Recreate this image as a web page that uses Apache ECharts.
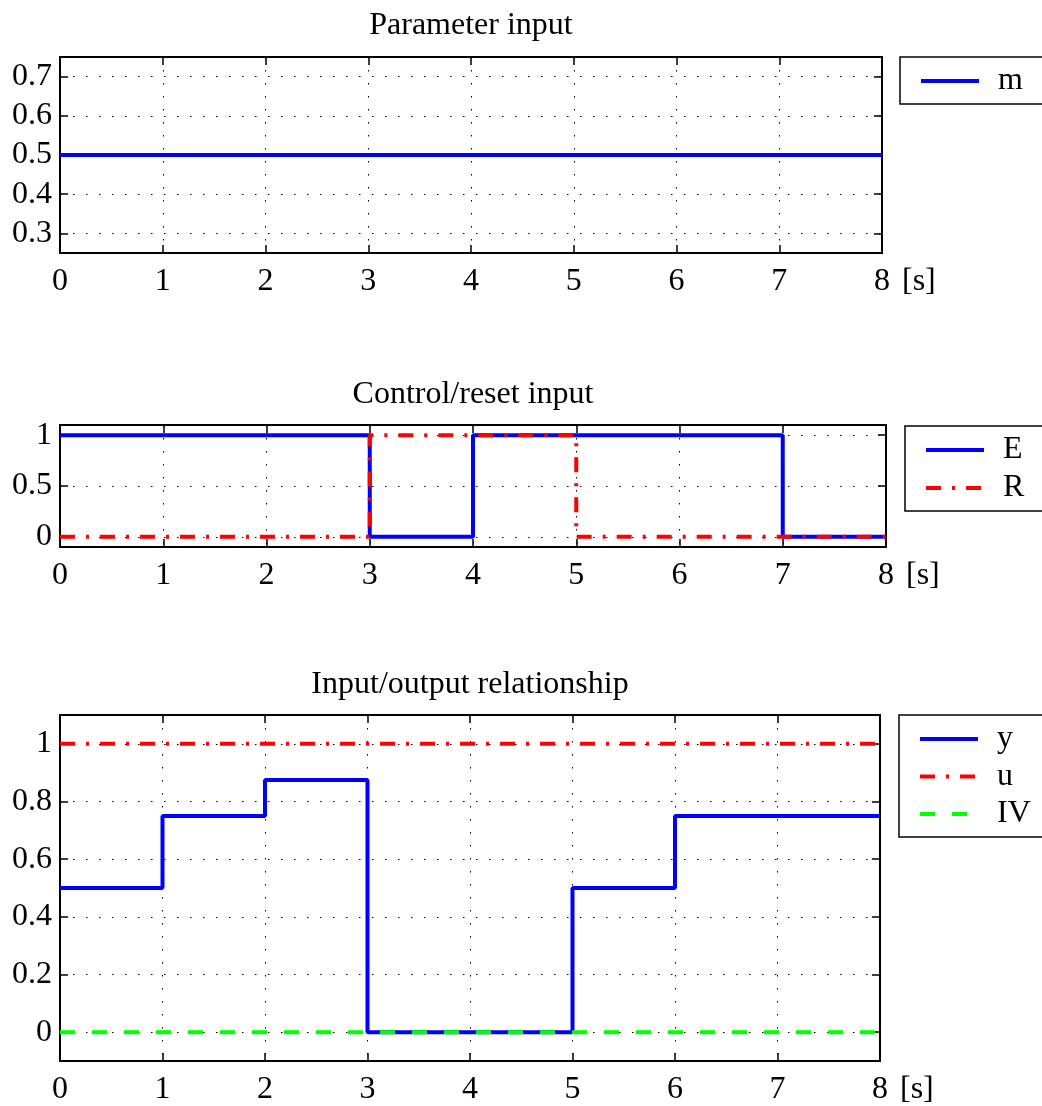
<!DOCTYPE html>
<html>
<head>
<meta charset="utf-8">
<script src="https://cdn.jsdelivr.net/npm/echarts@6/dist/echarts.min.js"></script>
<style>
html,body{margin:0;padding:0;background:#fff;}
#chart{width:1042px;height:1106px;}
</style>
</head>
<body>
<div id="chart"></div>
<script>
// ---- data ----
const t = [0, 1, 2, 3, 4, 5, 6, 7, 8];
const mVals = [0.5, 0.5, 0.5, 0.5, 0.5, 0.5, 0.5, 0.5, 0.5];
const eVals = [1, 1, 1, 0, 1, 1, 1, 0, 0];
const rVals = [0, 0, 0, 1, 1, 0, 0, 0, 0];
const yVals = [0.5, 0.75, 0.875, 0, 0, 0.5, 0.75, 0.75, 0.75];
const uVals = [1, 1, 1, 1, 1, 1, 1, 1, 1];
const ivVals = [0, 0, 0, 0, 0, 0, 0, 0, 0];
const titles = ['Parameter input', 'Control/reset input', 'Input/output relationship'];
const xUnit = '[s]';

const pair = (vals) => t.map((x, i) => [x, vals[i]]);

const FONT = 'Liberation Serif';
const FS = 32;
const BLUE = '#0000ff', RED = '#ff0000', GREEN = '#00ff00';
const dashDot = [15, 11, 3, 11];
const dashed = [15, 17];
const LW = 4;

const grids = [
  {left: 60, top: 57, width: 822, height: 196},
  {left: 60, top: 425, width: 826, height: 122},
  {left: 60, top: 715, width: 820, height: 348}
];
const yRanges = [
  {min: 0.25, max: 0.75, split: 5},
  {min: -0.1, max: 1.1, split: 3},
  {min: -0.1, max: 1.1, split: 6}
];

const tick = {inside: true, length: 8, lineStyle: {color: '#000', width: 1.5}};
const xAxes = [], yAxes = [];
grids.forEach((g, i) => {
  xAxes.push({
    type: 'value', gridIndex: i, min: 0, max: 8, interval: 1, position: 'bottom',
    axisLine: {show: false, onZero: false},
    axisTick: tick,
    axisLabel: {color: '#000', fontFamily: FONT, fontSize: FS, margin: 13},
    splitLine: {show: true, lineStyle: {color: '#000', type: [1.5, 11.5], width: 1}},
    name: xUnit, nameLocation: 'end', nameGap: 20,
    nameTextStyle: {color: '#000', fontFamily: FONT, fontSize: FS, verticalAlign: 'top', padding: [13, 0, 0, 0]}
  });
  xAxes.push({
    type: 'value', gridIndex: i, min: 0, max: 8, interval: 1, position: 'top',
    axisLine: {show: false, onZero: false},
    axisTick: tick,
    axisLabel: {show: false}, splitLine: {show: false}
  });
  const r = yRanges[i];
  yAxes.push({
    type: 'value', gridIndex: i, min: r.min, max: r.max, splitNumber: r.split, position: 'left',
    axisLine: {show: false, onZero: false},
    axisTick: tick,
    axisLabel: {color: '#000', fontFamily: FONT, fontSize: FS, margin: 8, padding: [5, 0, 0, 0],
      showMinLabel: false, showMaxLabel: false},
    splitLine: {show: true, lineStyle: {color: '#000', type: [1.5, 11.5], width: 1}}
  });
  yAxes.push({
    type: 'value', gridIndex: i, min: r.min, max: r.max, splitNumber: r.split, position: 'right',
    axisLine: {show: false, onZero: false},
    axisTick: tick,
    axisLabel: {show: false}, splitLine: {show: false}
  });
});

function line(name, vals, gi, color, type) {
  return {
    name, type: 'line', step: 'end', data: pair(vals),
    xAxisIndex: gi * 2, yAxisIndex: gi * 2,
    showSymbol: false, symbol: 'none', silent: true, animation: false,
    lineStyle: {color, width: LW, type}, itemStyle: {color}
  };
}

const series = [
  line('m', mVals, 0, BLUE, 'solid'),
  line('E', eVals, 1, BLUE, 'solid'),
  line('R', rVals, 1, RED, dashDot),
  line('y', yVals, 2, BLUE, 'solid'),
  line('u', uVals, 2, RED, dashDot),
  line('IV', ivVals, 2, GREEN, dashed)
];

function legend(names, left, top, gap) {
  return {
    data: names, orient: 'vertical', left, top,
    padding: [8, 60, 7, 19], itemGap: gap,
    itemWidth: 58, itemHeight: 1,
    borderColor: '#000', borderWidth: 1.5, borderRadius: 0,
    backgroundColor: '#fff', selectedMode: false,
    itemStyle: {opacity: 0, borderWidth: 0},
    lineStyle: {width: LW},
    textStyle: {color: '#000', fontFamily: FONT, fontSize: FS, padding: [0, 0, 0, 14], lineHeight: 26}
  };
}

const chart = echarts.init(document.getElementById('chart'), null, {renderer: 'canvas'});
chart.setOption({
  backgroundColor: '#fff',
  animation: false,
  title: [
    {text: titles[0], left: 471, top: 10, textAlign: 'center', padding: 0},
    {text: titles[1], left: 473, top: 379, textAlign: 'center', padding: 0},
    {text: titles[2], left: 470, top: 669, textAlign: 'center', padding: 0}
  ].map(o => Object.assign(o, {textStyle: {color: '#000', fontFamily: FONT, fontSize: FS, fontWeight: 'normal'}})),
  grid: grids.map(g => Object.assign({show: true, borderColor: '#000', borderWidth: 2, backgroundColor: 'transparent', containLabel: false}, g)),
  xAxis: xAxes,
  yAxis: yAxes,
  legend: [
    legend(['m'], 900, 57, 5.5),
    legend(['E', 'R'], 905, 426, 6),
    legend(['y', 'u', 'IV'], 899, 715, 5.5)
  ],
  series
});
</script>
</body>
</html>
